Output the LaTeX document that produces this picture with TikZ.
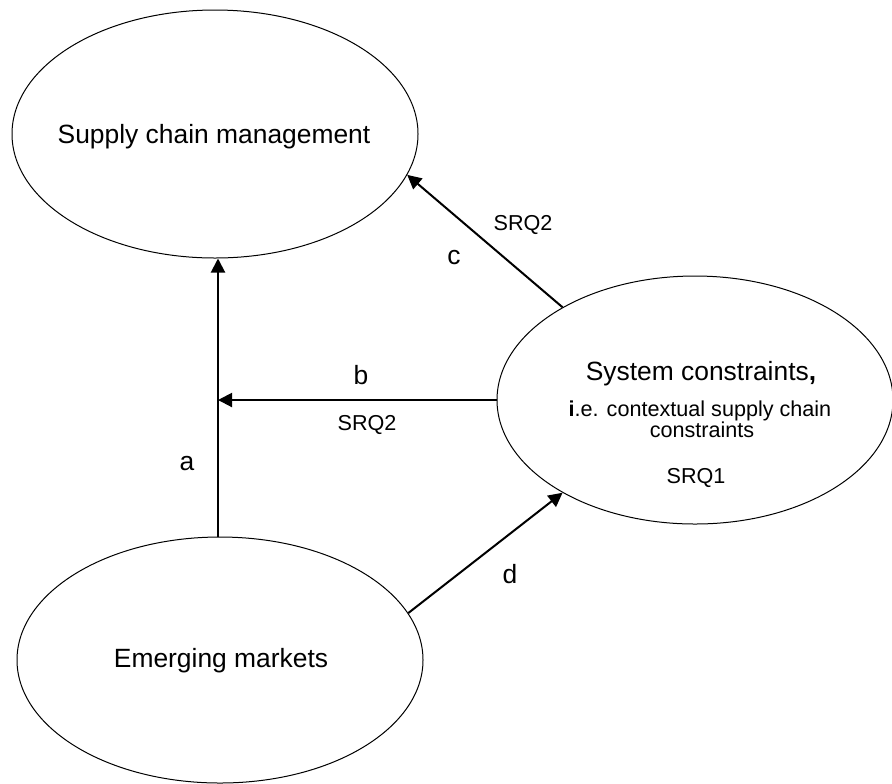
\documentclass[tikz,border=0pt]{standalone}
\usepackage{fontspec}
\setmainfont{Liberation Sans}
\usetikzlibrary{shapes.geometric,arrows.meta}
\begin{document}
\begin{tikzpicture}[x=0.5pt,y=-0.5pt,
  bubble/.style={draw, ellipse, line width=0.5pt, inner sep=0pt},
  big/.style={font=\fontsize{13.2}{15}\selectfont, inner sep=0pt},
  small/.style={font=\fontsize{10.8}{13}\selectfont, inner sep=0pt},
  conn/.style={line width=1pt, -{Triangle[length=7pt,width=7pt]}}]
\useasboundingbox (0,0) rectangle (892,783);
\node[bubble, minimum width=203pt, minimum height=124pt] (scm) at (215,134) {};
\node[bubble, minimum width=198pt, minimum height=124pt] (sys) at (695,400) {};
\node[bubble, minimum width=203pt, minimum height=123pt] (em) at (220,660) {};
\coordinate (bj) at (218,400);
\draw[conn] (em.north -| bj) -- (scm.south -| bj);
\draw[conn] (sys.west) -- (bj);
\draw[conn] (sys.145) -- (scm.-12.75);
\draw[conn] (em.14.4) -- (sys.215);
\node[big] (la) at (187,464) {a};
\node[big] (lb) at (361,375) {b};
\node[small] (lq1) at (367,425) {SRQ2};
\node[big] (lc) at (454,258) {c};
\node[small] (lq2) at (523,225) {SRQ2};
\node[big] (ld) at (510,574) {d};
\node[big] (tscm) at (214,137) {Supply chain management};
\node[big] (tem) at (221,661) {Emerging markets};
\node[big, anchor=base] (ts1) at (701,380) {System constraints\textbf{,}};
\node[small, anchor=base] (ts2) at (700,416) {\textbf{i}.e. contextual supply chain};
\node[small, anchor=base] (ts3) at (702,437) {constraints};
\node[small, anchor=base] (ts4) at (696,483) {SRQ1};
\end{tikzpicture}
\end{document}
